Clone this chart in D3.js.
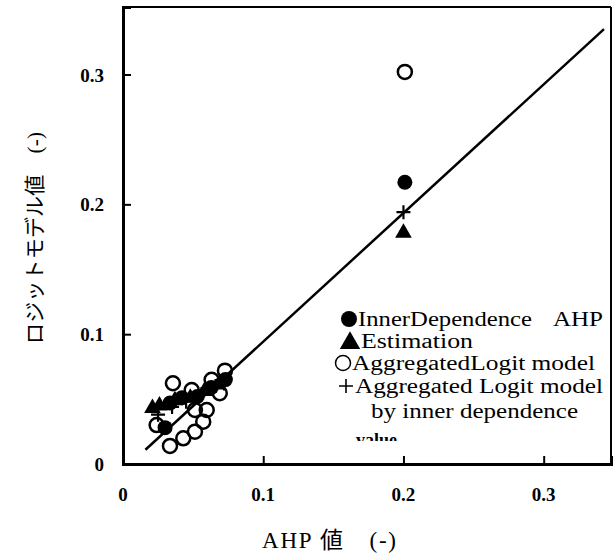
<!DOCTYPE html>
<html><head><meta charset="utf-8">
<script src="https://cdn.jsdelivr.net/npm/d3@7"></script>
<style>body{margin:0;background:#fff}svg{display:block}</style>
</head><body>
<svg id="c" width="613" height="557"></svg>
<script>
// ---- data ----
const xTicks = [0, 0.1, 0.2, 0.3];
const yTicks = [0, 0.1, 0.2, 0.3];
const xTickLabels = ["0", "0.1", "0.2", "0.3"];
const yTickLabels = ["0", "0.1", "0.2", "0.3"];
// Inner dependence AHP estimation (filled circles)
const innerX = [0.201, 0.030, 0.0335, 0.042, 0.053, 0.063, 0.073];
const innerY = [0.217, 0.028, 0.047, 0.051, 0.052, 0.059, 0.065];
// Estimation (triangles)
const estX = [0.200, 0.021, 0.026, 0.037, 0.048, 0.058, 0.068];
const estY = [0.178, 0.043, 0.045, 0.049, 0.051, 0.056, 0.061];
// Aggregated Logit model (open circles)
const aggX = [0.201, 0.0356, 0.0727, 0.0632, 0.049, 0.069, 0.0597, 0.0572, 0.0513, 0.043, 0.0335, 0.024, 0.0513];
const aggY = [0.302, 0.0622, 0.0719, 0.0648, 0.057, 0.0545, 0.0416, 0.0326, 0.0249, 0.0198, 0.0139, 0.030, 0.0416];
// Aggregated Logit model by inner dependence (plus)
const aggInX = [0.200, 0.025, 0.035, 0.045, 0.056, 0.066, 0.072];
const aggInY = [0.194, 0.038, 0.044, 0.048, 0.054, 0.060, 0.062];
// fitted line
const lineX = [0.016, 0.343];
const lineY = [0.011, 0.335];
const legendLabels = ["InnerDependence", "AHP", "Estimation", "AggregatedLogit model", "Aggregated Logit model", "by inner dependence", "value"];
const xTitle = "AHP 値　(-)";
const yTitle = "ロジットモデル値　(-)";

// ---- drawing ----
const svg = d3.select("#c");
const L = 123, R = 611, T = 7, B = 464;
const x = d3.scaleLinear().domain([0, 0.348]).range([L, R]);
const y = d3.scaleLinear().domain([0, 0.352]).range([B, T]);
const serif = "'Liberation Serif','Times New Roman',serif";
const mixed = "'Liberation Serif','Noto Sans CJK JP',serif";

// frame
svg.append("line").attr("x1", L).attr("x2", R).attr("y1", T).attr("y2", T).attr("stroke", "#000").attr("stroke-width", 2);
svg.append("line").attr("x1", R).attr("x2", R).attr("y1", T).attr("y2", B).attr("stroke", "#000").attr("stroke-width", 2);

// axes with inward ticks
const gx = svg.append("g").attr("transform", `translate(0,${B})`)
  .call(d3.axisTop(x).tickValues(xTicks.slice(1)).tickSize(8).tickFormat(""));
const gy = svg.append("g").attr("transform", `translate(${L},0)`)
  .call(d3.axisRight(y).tickValues(yTicks.slice(1)).tickSize(8).tickFormat(""));
[gx, gy].forEach(g => {
  g.select(".domain").attr("stroke", "#000").attr("stroke-width", 3);
  g.selectAll(".tick line").attr("stroke", "#000").attr("stroke-width", 2);
});

// tick labels
svg.append("g").selectAll("text").data(xTicks).join("text")
  .attr("x", d => x(d)).attr("y", 501).attr("text-anchor", "middle")
  .attr("font-family", serif).attr("font-weight", "bold").attr("font-size", 19)
  .text((d, i) => xTickLabels[i]);
svg.append("g").selectAll("text").data(yTicks).join("text")
  .attr("x", 104).attr("y", d => y(d) + 7).attr("text-anchor", "end")
  .attr("font-family", serif).attr("font-weight", "bold").attr("font-size", 19)
  .text((d, i) => yTickLabels[i]);

// axis titles
svg.append("text").attr("x", 262).attr("y", 548)
  .attr("textLength", 134).attr("lengthAdjust", "spacing")
  .attr("font-family", mixed).attr("font-size", 23).text(xTitle);
svg.append("text").attr("transform", "translate(42,238) rotate(-90)").attr("x", -106)
  .attr("textLength", 212).attr("lengthAdjust", "spacing")
  .attr("font-family", mixed).attr("font-size", 21).text(yTitle);

// line
svg.append("line").attr("x1", x(lineX[0])).attr("y1", y(lineY[0]))
  .attr("x2", x(lineX[1])).attr("y2", y(lineY[1])).attr("stroke", "#000").attr("stroke-width", 2.5);

const tri = d3.symbol().type(d3.symbolTriangle).size(120);
const cross = (s) => `M${-s},0H${s}M0,${-s}V${s}`;

// open circles
svg.append("g").selectAll("circle").data(aggX).join("circle")
  .attr("cx", d => x(d)).attr("cy", (d, i) => y(aggY[i])).attr("r", 7)
  .attr("fill", "none").attr("stroke", "#000").attr("stroke-width", 2.5);
// filled circles
svg.append("g").selectAll("circle").data(innerX).join("circle")
  .attr("cx", d => x(d)).attr("cy", (d, i) => y(innerY[i])).attr("r", 7.5).attr("fill", "#000");
// triangles
svg.append("g").selectAll("path").data(estX).join("path")
  .attr("transform", (d, i) => `translate(${x(d)},${y(estY[i])})`).attr("d", tri).attr("fill", "#000");
// plus
svg.append("g").selectAll("path").data(aggInX).join("path")
  .attr("transform", (d, i) => `translate(${x(d)},${y(aggInY[i])})`).attr("d", cross(7))
  .attr("stroke", "#000").attr("stroke-width", 2.2).attr("fill", "none");

// legend
const lg = svg.append("g").attr("font-family", serif).attr("font-size", 20).attr("fill", "#000");
const lt = (tx, ty, w, s) => lg.append("text").attr("x", tx).attr("y", ty)
  .attr("textLength", w).attr("lengthAdjust", "spacingAndGlyphs").text(s);
lg.append("circle").attr("cx", 349).attr("cy", 319).attr("r", 8).attr("fill", "#000");
lt(358, 326, 174, legendLabels[0]);
lt(553, 326, 50, legendLabels[1]);
lg.append("path").attr("transform", "translate(350,343)").attr("d", d3.symbol().type(d3.symbolTriangle).size(180)).attr("fill", "#000");
lt(361, 348, 112, legendLabels[2]);
lg.append("circle").attr("cx", 343).attr("cy", 363).attr("r", 7.5).attr("fill", "none").attr("stroke", "#000").attr("stroke-width", 1.5);
lt(352, 370, 243, legendLabels[3]);
lg.append("path").attr("transform", "translate(346,386)").attr("d", cross(7)).attr("stroke", "#000").attr("stroke-width", 1.6);
lt(355, 393, 248, legendLabels[4]);
lt(371, 418, 207, legendLabels[5]);
svg.append("clipPath").attr("id", "vclip").append("rect").attr("x", 340).attr("y", 427).attr("width", 80).attr("height", 14);
lg.append("text").attr("x", 356).attr("y", 446).attr("clip-path", "url(#vclip)")
  .attr("font-weight", "bold").attr("font-size", 18).text(legendLabels[6]);
</script>
</body></html>
